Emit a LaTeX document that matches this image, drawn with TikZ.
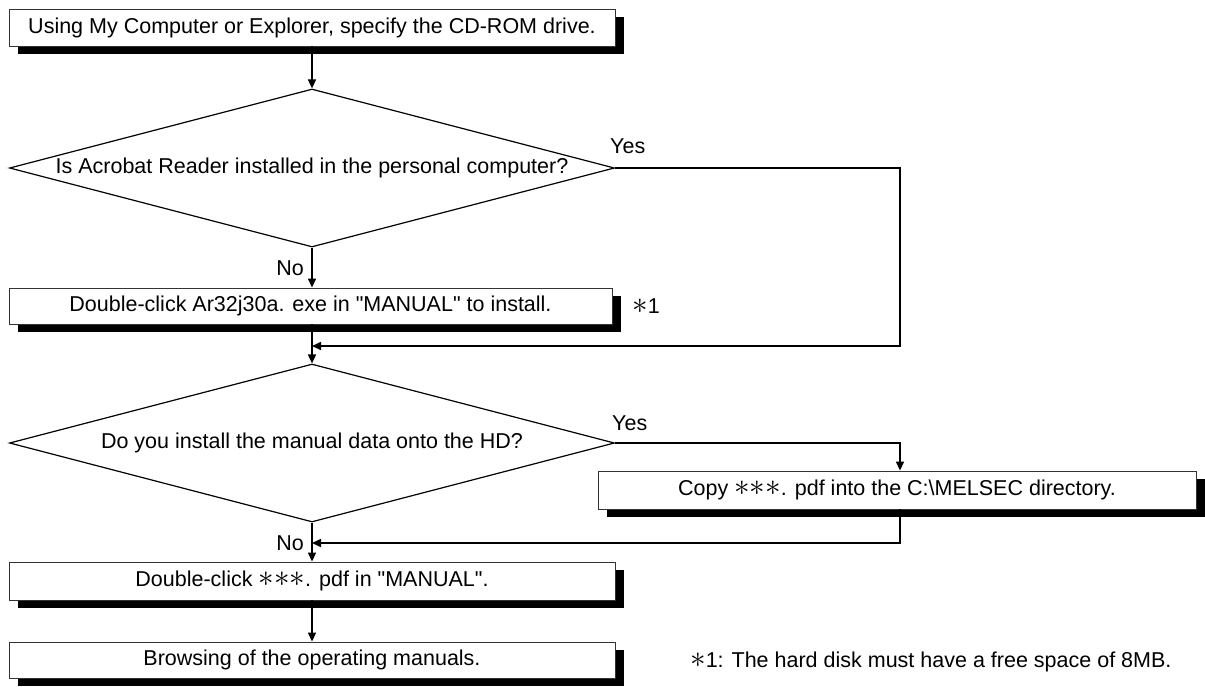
\documentclass[tikz,border=0pt]{standalone}
\usepackage{fontspec}
\usepackage{graphicx}
\setmainfont{Liberation Sans}[Ligatures=TeXOff]
\usetikzlibrary{arrows.meta,shapes.geometric,shadows}
\newcommand{\myast}{\scalebox{1.5}{$\mathord{\ast}$}}
\newcommand{\mystars}{\myast\myast\myast}
\begin{document}
\begin{tikzpicture}[x=1pt,y=-1pt,
  font=\fontsize{21.5}{25}\selectfont,
  box/.style={draw=black!80, line width=0.9pt, fill=white, rectangle, inner sep=0pt,
    minimum width=606pt, minimum height=37pt,
    general shadow={fill=black, shadow xshift=9pt, shadow yshift=-8pt}},
  dec/.style={draw=black, line width=1.2pt, diamond, inner sep=0pt,
    minimum width=605pt, minimum height=158pt},
  arr/.style={line width=1.6pt, -{Triangle[length=9pt,width=8pt]}},
  lbl/.style={inner sep=0pt}]
\useasboundingbox (0,0) rectangle (1205,686);

% nodes
\node[box] (b1) at (312,27.5) {Using My Computer or Explorer, specify the CD-ROM drive.};
\node[dec] (d1) at (312,168) {\makebox[0pt]{Is Acrobat Reader installed in the personal computer?}};
\node[box, minimum width=603pt, minimum height=36pt] (b2) at (310.5,306) {Double-click Ar32j30a. exe in "MANUAL" to install.};
\node[dec] (d2) at (312,443) {\makebox[0pt]{Do you install the manual data onto the HD?}};
\node[box, minimum width=598pt, minimum height=38pt] (b3) at (897,490) {Copy \mystars. pdf into the C:\textbackslash MELSEC directory.};
\node[box, minimum height=38pt] (b4) at (312,581) {Double-click \mystars. pdf in "MANUAL".};
\node[box, minimum height=36pt] (b5) at (312,660) {Browsing of the operating manuals.};

% labels
\node[lbl, anchor=west] (yes1) at (610,146) {Yes};
\node[lbl, anchor=east] (no1) at (304,268) {No};
\node[lbl, anchor=west] (yes2) at (612,423) {Yes};
\node[lbl, anchor=east] (no2) at (304,543) {No};
\node[lbl, anchor=west] (n1) at (632,306) {\myast1};
\node[lbl, anchor=west] (fn) at (690,662) {\myast1: The hard disk must have a free space of 8MB.};

% junction coordinates
\coordinate (r1) at (900,168);
\coordinate (r1b) at (900,346);
\coordinate (j1) at (312,346);
\coordinate (r2) at (900,443);
\coordinate (r3) at (900,543);
\coordinate (j2) at (312,543);

% connectors
\draw[arr] (b1.south) -- (d1.north);
\draw[arr] (d1.south) -- (d1.south |- b2.north);
\draw[arr] (d1.east) -- (r1) -- (r1b) -- (j1);
\draw[arr] (b2.south -| d1.south) -- (d2.north);
\draw[arr] (d2.east) -- (r2) -- (r2 |- b3.north);
\draw[arr] (r2 |- b3.south) -- (r3) -- (j2);
\draw[arr] (d2.south) -- (b4.north);
\draw[arr] (b4.south) -- (b5.north);
\end{tikzpicture}
\end{document}
